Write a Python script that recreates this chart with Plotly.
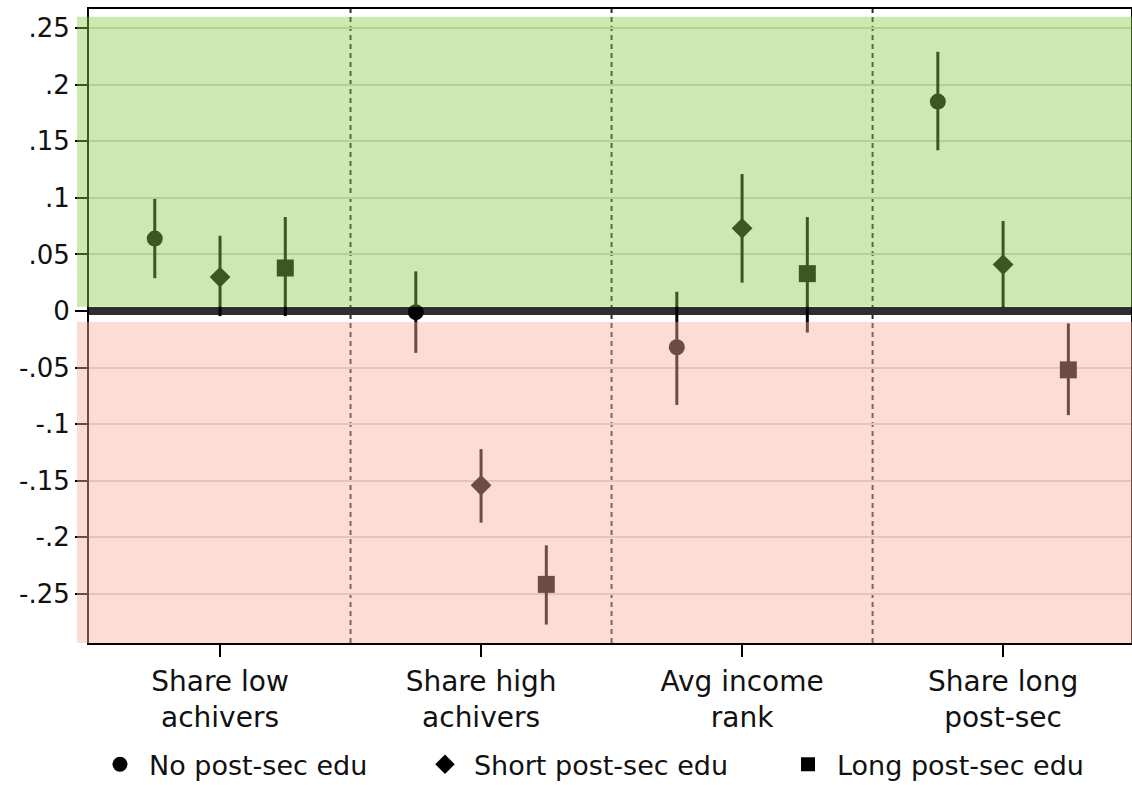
import plotly.graph_objects as go

categories = ["Share low<br>achivers", "Share high<br>achivers", "Avg income<br>rank", "Share long<br>post-sec"]
groups = ["No post-sec edu", "Short post-sec edu", "Long post-sec edu"]
symbols = ["circle", "diamond", "square"]
offsets = [-0.25, 0.0, 0.25]

# point estimates and confidence bounds, per group, per category
no_est = [0.064, -0.001, -0.032, 0.185]
no_lo = [0.029, -0.037, -0.083, 0.142]
no_hi = [0.099, 0.035, 0.017, 0.229]

short_est = [0.030, -0.154, 0.073, 0.041]
short_lo = [-0.0045, -0.187, 0.025, 0.0035]
short_hi = [0.0665, -0.122, 0.121, 0.0795]

long_est = [0.038, -0.2415, 0.033, -0.052]
long_lo = [-0.0045, -0.277, -0.019, -0.092]
long_hi = [0.083, -0.207, 0.083, -0.011]

ytick_vals = [-0.25, -0.2, -0.15, -0.1, -0.05, 0, 0.05, 0.1, 0.15, 0.2, 0.25]
ytick_text = ["-.25", "-.2", "-.15", "-.1", "-.05", "0", ".05", ".1", ".15", ".2", ".25"]

FONT = "DejaVu Sans"
series = [(no_est, no_lo, no_hi), (short_est, short_lo, short_hi), (long_est, long_lo, long_hi)]
marker_sizes = [16, 16, 17]
legend_sizes = [15, 15, 14]
legend_ids = ["legend", "legend2", "legend3"]
legend_x = [0.0019, 0.3138, 0.6622]

xmin, xmax = 0.498, 4.49
ymin, ymax = -0.2933, 0.2668

fig = go.Figure()
# zero reference band, drawn first so markers sit on top of it
fig.add_trace(go.Scatter(x=[xmin, xmax], y=[0, 0], mode="lines", showlegend=False,
                         hoverinfo="skip", line=dict(color="#2e2e2e", width=8)))
cat_pos = [1, 2, 3, 4]
for gi, (est, lo, hi) in enumerate(series):
    xs = [c + offsets[gi] for c in cat_pos]
    fig.add_trace(go.Scatter(
        x=xs, y=est, mode="markers", showlegend=False,
        marker=dict(symbol=symbols[gi], size=marker_sizes[gi], color="black", line=dict(width=0)),
        error_y=dict(type="data", symmetric=False,
                     array=[h - e for h, e in zip(hi, est)],
                     arrayminus=[e - l for e, l in zip(est, lo)],
                     thickness=3, width=0, color="black"),
    ))
    fig.add_trace(go.Scatter(
        x=[None], y=[None], mode="markers", name=groups[gi], legend=legend_ids[gi],
        marker=dict(symbol=symbols[gi], size=legend_sizes[gi], color="black"),
    ))

shapes = []
for sep in [1.5, 2.5, 3.5]:
    shapes.append(dict(type="line", xref="x", yref="paper", x0=sep, x1=sep, y0=0, y1=1,
                       line=dict(color="#2a2a2a", width=2, dash="5px,4px"), layer="between"))
# translucent region overlays
shapes.append(dict(type="rect", xref="paper", yref="y", x0=-0.0115, x1=1.002, y0=0.0037, y1=0.26,
                   fillcolor="rgb(137,205,74)", opacity=0.43, line=dict(width=0), layer="above"))
shapes.append(dict(type="rect", xref="paper", yref="y", x0=-0.0115, x1=1.002, y0=ymin, y1=-0.0097,
                   fillcolor="rgb(249,174,156)", opacity=0.437, line=dict(width=0), layer="above"))

legend_common = dict(orientation="h", xanchor="left", y=-0.192, yanchor="middle",
                     font=dict(family=FONT, size=27, color="#111111"),
                     itemsizing="trace", itemwidth=48, bgcolor="rgba(0,0,0,0)")

fig.update_layout(
    width=1132, height=785,
    margin=dict(l=89, r=1, t=9, b=142, autoexpand=False),
    paper_bgcolor="white", plot_bgcolor="white",
    font=dict(family=FONT, size=28, color="#111111"),
    shapes=shapes,
    showlegend=True,
    legend=dict(x=legend_x[0], **legend_common),
    legend2=dict(x=legend_x[1], **legend_common),
    legend3=dict(x=legend_x[2], **legend_common),
    xaxis=dict(range=[xmin, xmax], tickvals=cat_pos, ticktext=categories,
               showgrid=False, zeroline=False, showline=True, linecolor="black", linewidth=2,
               mirror=True, ticks="outside", ticklen=12, tickwidth=2, tickcolor="black",
               tickfont=dict(family=FONT, size=28, color="#111111")),
    yaxis=dict(range=[ymin, ymax], tickvals=ytick_vals, ticktext=ytick_text,
               showgrid=True, gridcolor="#d4d4d4", gridwidth=2, zeroline=False,
               showline=True, linecolor="black", linewidth=2, mirror=True,
               ticks="outside", ticklen=12, tickwidth=2, tickcolor="black",
               tickfont=dict(family=FONT, size=26, color="#111111")),
)

fig.write_html("out.html", config={"displayModeBar": False},
               post_script="document.body.style.margin='0px';")
